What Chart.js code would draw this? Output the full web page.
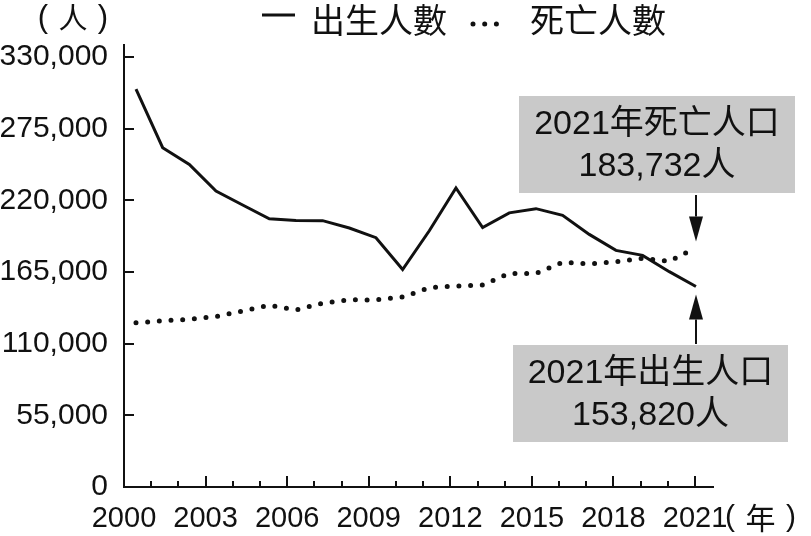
<!DOCTYPE html>
<html lang="zh-Hant">
<head>
<meta charset="utf-8">
<title>出生人數與死亡人數</title>
<script src="https://cdn.jsdelivr.net/npm/chart.js@4.4.1/dist/chart.umd.min.js"></script>
<style>
  html, body { margin: 0; padding: 0; background: #fff; }
  #wrap { width: 811px; height: 536px; }
</style>
</head>
<body>
<div id="wrap"><canvas id="myChart" width="811" height="536"></canvas></div>
<script>
const years = [2000, 2001, 2002, 2003, 2004, 2005, 2006, 2007, 2008, 2009, 2010,
    2011, 2012, 2013, 2014, 2015, 2016, 2017, 2018, 2019, 2020, 2021]

const births = [305312, 260354, 247530, 227070, 216419, 205854, 204459, 204414, 198733, 191310, 166886,
    196627, 229481, 199113, 210383, 213598, 208440, 193844, 181601, 177767, 165249, 153820]

const deaths = [125958, 127647, 128636, 130801, 135092, 139398, 135839, 141111, 143624, 143582, 145772,
    152915, 154251, 155008, 163929, 163858, 172405, 171242, 172784, 175546, 173156, 183732]

const yTicks = [0, 55000, 110000, 165000, 220000, 275000, 330000]
const xLabelYears = [2000, 2003, 2006, 2009, 2012, 2015, 2018, 2021]

const seriesNames = ['出生人數', '死亡人數']

const ink = '#111'
const latin = '"Liberation Sans", Arial, "Noto Sans CJK TC", sans-serif'
const cjk = '"Noto Sans CJK TC", "Liberation Sans", sans-serif'

function toPoints(values) {
    return values.map((v, i) => ({ x: years[i], y: v }))
}

// tick marks point inward, majors every 3 years
const tickMarks = {
    id: 'tickMarks',
    afterDraw(chart) {
        const ctx = chart.ctx
        const xt = chart.scales.xt
        const y = chart.scales.y
        const area = chart.chartArea
        ctx.save()
        ctx.strokeStyle = ink
        ctx.lineWidth = 2
        ctx.beginPath()
        for (const v of yTicks) {
            if (v === 0) continue
            const py = Math.round(y.getPixelForValue(v))
            ctx.moveTo(area.left, py)
            ctx.lineTo(area.left + 10, py)
        }
        for (const yr of years) {
            if (yr === years[0]) continue
            const px = Math.round(xt.getPixelForValue(yr))
            const len = xLabelYears.includes(yr) ? 11 : 6
            ctx.moveTo(px, area.bottom)
            ctx.lineTo(px, area.bottom - len)
        }
        ctx.stroke()
        ctx.restore()
    }
}

function drawArrow(ctx, x, fromY, tipY) {
    const dir = tipY > fromY ? 1 : -1
    const headLen = 25
    ctx.beginPath()
    ctx.moveTo(x, fromY)
    ctx.lineTo(x, tipY - dir * headLen)
    ctx.stroke()
    ctx.beginPath()
    ctx.moveTo(x, tipY)
    ctx.lineTo(x - 7, tipY - dir * headLen)
    ctx.lineTo(x + 7, tipY - dir * headLen)
    ctx.closePath()
    ctx.fill()
}

function drawBox(ctx, box, lines) {
    ctx.fillStyle = '#c9c9c9'
    ctx.fillRect(box.x, box.y, box.w, box.h)
    ctx.fillStyle = ink
    ctx.textAlign = 'center'
    ctx.textBaseline = 'middle'
    ctx.font = '34px ' + latin
    const cx = box.x + box.w / 2
    ctx.fillText(lines[0], cx, box.y + box.h / 2 - 20)
    ctx.fillText(lines[1], cx, box.y + box.h / 2 + 22)
}

// unit in wide brackets, e.g. ( 人 )
function drawUnit(ctx, unit, x0, x1, y, size, unitSize) {
    ctx.textAlign = 'center'
    ctx.textBaseline = 'middle'
    ctx.font = size + 'px ' + latin
    ctx.fillText('(', x0, y)
    ctx.fillText(')', x1, y)
    ctx.font = unitSize + 'px ' + cjk
    ctx.fillText(unit, (x0 + x1) / 2, y)
}

const annotations = {
    id: 'annotations',
    afterDraw(chart) {
        const ctx = chart.ctx
        const x = chart.scales.x
        const y = chart.scales.y
        const last = years.length - 1
        const ax = Math.round(x.getPixelForValue(years[last]))
        ctx.save()

        // unit labels
        ctx.fillStyle = ink
        drawUnit(ctx, '人', 43, 103, 18, 31, 29)
        drawUnit(ctx, '年', 730, 791, 518, 30, 30)

        // legend
        ctx.textAlign = 'left'
        ctx.strokeStyle = ink
        ctx.lineWidth = chart.data.datasets[0].borderWidth
        ctx.beginPath()
        ctx.moveTo(262, 15)
        ctx.lineTo(295, 15)
        ctx.stroke()
        const dotted = chart.data.datasets[1]
        ctx.lineWidth = dotted.borderWidth
        ctx.lineCap = dotted.borderCapStyle
        ctx.setLineDash(dotted.borderDash)
        ctx.beginPath()
        ctx.moveTo(473, 24)
        ctx.lineTo(500, 24)
        ctx.stroke()
        ctx.setLineDash([])
        ctx.lineCap = 'butt'
        ctx.font = '34px ' + cjk
        ctx.fillText(seriesNames[0], 311, 20)
        ctx.fillText(seriesNames[1], 530, 20)

        // call-out boxes
        ctx.lineWidth = 2
        ctx.fillStyle = ink
        drawArrow(ctx, ax, 195, y.getPixelForValue(deaths[last]) - 6)
        drawArrow(ctx, ax, 344, y.getPixelForValue(births[last]) + 8)
        drawBox(ctx, { x: 519, y: 96, w: 276, h: 97 },
            [years[last] + '年死亡人口', deaths[last].toLocaleString('en-US') + '人'])
        drawBox(ctx, { x: 513, y: 345, w: 275, h: 97 },
            [years[last] + '年出生人口', births[last].toLocaleString('en-US') + '人'])
        ctx.restore()
    }
}

const ctx = document.getElementById('myChart')
new Chart(ctx, {
    type: 'line',
    data: {
        datasets: [
            {
                label: seriesNames[0],
                data: toPoints(births),
                borderColor: ink,
                borderWidth: 3,
                pointRadius: 0,
                tension: 0,
                xAxisID: 'x',
                yAxisID: 'y'
            },
            {
                label: seriesNames[1],
                data: toPoints(deaths),
                borderColor: ink,
                borderWidth: 5,
                borderDash: [0, 11.7],
                borderCapStyle: 'round',
                pointRadius: 0,
                tension: 0,
                xAxisID: 'x',
                yAxisID: 'y'
            }
        ]
    },
    options: {
        responsive: false,
        animation: false,
        layout: { padding: { top: 45, right: 98, left: 0, bottom: 0 } },
        scales: {
            // data axis: points sit a little right of the printed year ticks
            x: {
                type: 'linear',
                display: false,
                min: 1999.55,
                max: 2021.64
            },
            xt: {
                type: 'linear',
                position: 'bottom',
                min: 2000,
                max: 2021.66,
                grid: { display: false, drawTicks: false },
                border: { display: true, color: ink, width: 2 },
                afterBuildTicks: s => { s.ticks = xLabelYears.map(v => ({ value: v })) },
                afterFit: s => { s.height = 49 },
                ticks: {
                    autoSkip: false,
                    maxRotation: 0,
                    padding: 15,
                    color: ink,
                    font: { family: latin, size: 29 },
                    callback: v => String(v)
                }
            },
            y: {
                type: 'linear',
                min: 0,
                max: 339200,
                grid: { display: false, drawTicks: false },
                border: { display: true, color: ink, width: 2 },
                afterBuildTicks: s => { s.ticks = yTicks.map(v => ({ value: v })) },
                afterFit: s => { s.width = 124 },
                ticks: {
                    padding: 16,
                    color: ink,
                    font: { family: latin, size: 30 },
                    callback: v => v.toLocaleString('en-US')
                }
            }
        },
        plugins: {
            legend: { display: false },
            tooltip: { enabled: false }
        }
    },
    plugins: [tickMarks, annotations]
})
</script>
</body>
</html>
